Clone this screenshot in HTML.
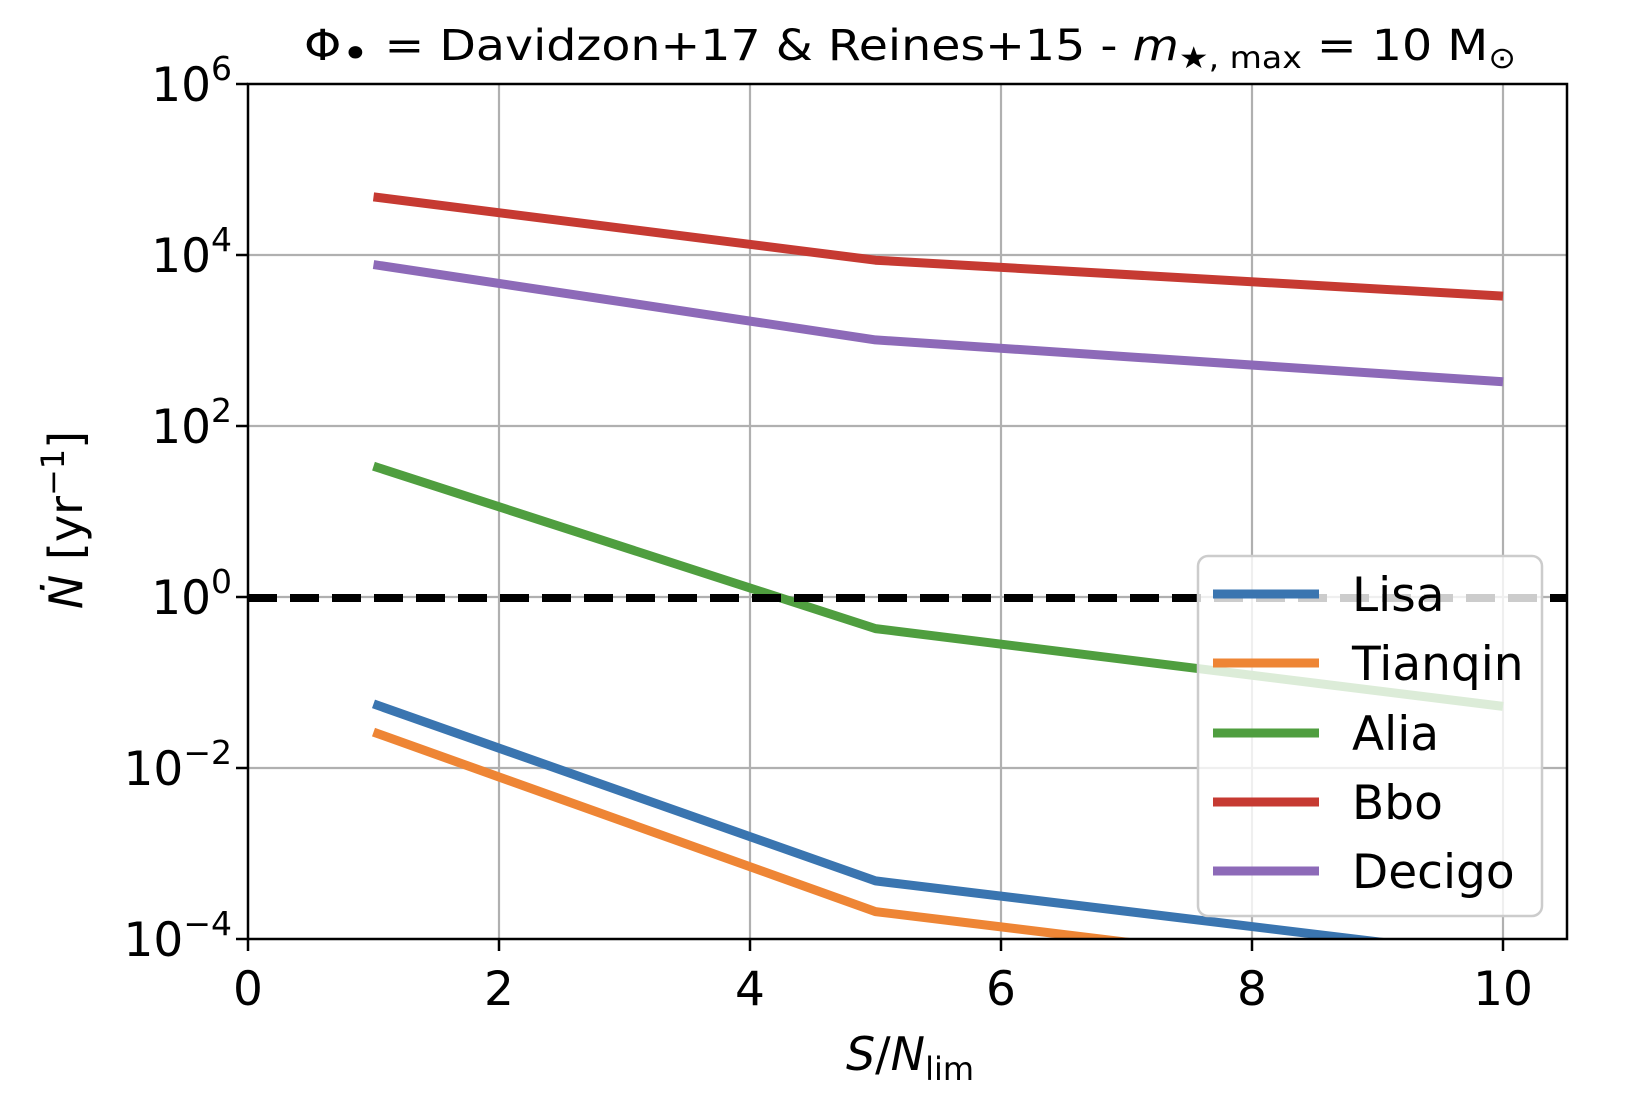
<!DOCTYPE html>
<html><head><meta charset="utf-8"><style>
html,body{margin:0;padding:0;background:#fff;}
svg{display:block;font-family:"DejaVu Sans","Liberation Sans",sans-serif;}
</style></head><body>
<svg width="1628" height="1114" viewBox="0 0 1628 1114" xmlns="http://www.w3.org/2000/svg">
<defs><clipPath id="c"><rect x="248" y="84" width="1319" height="855"/></clipPath></defs>
<g stroke="#b0b0b0" stroke-width="2.2">
<line x1="499" y1="84" x2="499" y2="939"/><line x1="750" y1="84" x2="750" y2="939"/>
<line x1="1001" y1="84" x2="1001" y2="939"/><line x1="1252" y1="84" x2="1252" y2="939"/>
<line x1="1503" y1="84" x2="1503" y2="939"/>
<line x1="248" y1="255" x2="1567" y2="255"/><line x1="248" y1="426" x2="1567" y2="426"/>
<line x1="248" y1="597" x2="1567" y2="597"/><line x1="248" y1="768" x2="1567" y2="768"/>
</g>
<g clip-path="url(#c)" fill="none" stroke-width="9" stroke-linejoin="round">
<polyline stroke="#3a75b0" points="373.5,703.9 875.5,880.9 1503,957"/>
<polyline stroke="#ee8535" points="373.5,732.1 875.5,911.6 1503,988"/>
<polyline stroke="#4f9e3f" points="373.5,466.2 875.5,628.6 1503,706.4"/>
<polyline stroke="#c63a32" points="373.5,196.9 875.5,260.2 1503,296.1"/>
<polyline stroke="#8d6ab8" points="373.5,264.6 875.5,339.9 1503,381.8"/>
<line x1="248" y1="598" x2="1567" y2="598" stroke="#000" stroke-width="8" stroke-dasharray="29,13"/>
</g>
<rect x="248" y="84" width="1319" height="855" fill="none" stroke="#000" stroke-width="2.5"/>
<g stroke="#000" stroke-width="2.5">
<line x1="248" y1="939" x2="248" y2="951"/><line x1="499" y1="939" x2="499" y2="951"/>
<line x1="750" y1="939" x2="750" y2="951"/><line x1="1001" y1="939" x2="1001" y2="951"/>
<line x1="1252" y1="939" x2="1252" y2="951"/><line x1="1503" y1="939" x2="1503" y2="951"/>
<line x1="236" y1="84" x2="248" y2="84"/><line x1="236" y1="255" x2="248" y2="255"/>
<line x1="236" y1="426" x2="248" y2="426"/><line x1="236" y1="597" x2="248" y2="597"/>
<line x1="236" y1="768" x2="248" y2="768"/><line x1="236" y1="939" x2="248" y2="939"/>
</g>
<rect x="1198" y="556" width="344" height="360" rx="10" fill="#fff" fill-opacity="0.8" stroke="#cccccc" stroke-width="2.5"/>
<g stroke-width="9">
<line x1="1213" y1="594" x2="1319" y2="594" stroke="#3a75b0"/>
<line x1="1213" y1="663" x2="1319" y2="663" stroke="#ee8535"/>
<line x1="1213" y1="733" x2="1319" y2="733" stroke="#4f9e3f"/>
<line x1="1213" y1="802" x2="1319" y2="802" stroke="#c63a32"/>
<line x1="1213" y1="871" x2="1319" y2="871" stroke="#8d6ab8"/>
</g>
<g font-size="47" fill="#000">
<text x="1352" y="611">Lisa</text>
<text x="1352" y="680">Tianqin</text>
<text x="1352" y="750">Alia</text>
<text x="1352" y="819">Bbo</text>
<text x="1352" y="888">Decigo</text>
</g>
<g font-size="47" text-anchor="middle" fill="#000">
<text x="248" y="1005">0</text><text x="499" y="1005">2</text><text x="750" y="1005">4</text>
<text x="1001" y="1005">6</text><text x="1252" y="1005">8</text><text x="1503" y="1005">10</text>
</g>
<g font-size="47" text-anchor="end" fill="#000">
<text x="232" y="101">10<tspan font-size="33" dy="-21">6</tspan></text>
<text x="232" y="272">10<tspan font-size="33" dy="-21">4</tspan></text>
<text x="232" y="443">10<tspan font-size="33" dy="-21">2</tspan></text>
<text x="232" y="614">10<tspan font-size="33" dy="-21">0</tspan></text>
<text x="232" y="785">10<tspan font-size="33" dy="-21">−2</tspan></text>
<text x="232" y="956">10<tspan font-size="33" dy="-21">−4</tspan></text>
</g>
<text x="910" y="1070" font-size="46" text-anchor="middle" fill="#000"><tspan font-style="italic">S</tspan>/<tspan font-style="italic">N</tspan><tspan font-size="32" dy="10">lim</tspan></text>
<text transform="translate(82,520) rotate(-90)" font-size="46" text-anchor="middle" fill="#000"><tspan font-style="italic">Ṅ</tspan> [yr<tspan font-size="32" dy="-18">−1</tspan><tspan dy="18">]</tspan></text>
<text x="304" y="60" font-size="43" fill="#000" textLength="1212" lengthAdjust="spacingAndGlyphs">Φ<tspan dy="8">•</tspan><tspan dy="-8"> = Davidzon+17 &amp; Reines+15 - </tspan><tspan font-style="italic">m</tspan><tspan font-size="30" dy="8">★, max</tspan><tspan dy="-8"> = 10 M</tspan><tspan font-size="30" dy="8">⊙</tspan></text>
</svg>
</body></html>
